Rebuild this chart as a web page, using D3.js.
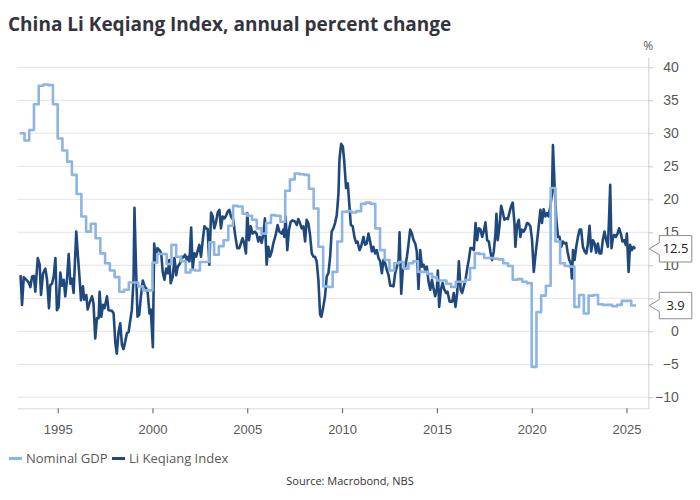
<!DOCTYPE html>
<html>
<head>
<meta charset="utf-8">
<script src="https://cdn.jsdelivr.net/npm/d3@7"></script>
<style>
body { margin: 0; background: #fff; }
svg { font-family: "Open Sans", "Noto Sans", sans-serif; }
</style>
</head>
<body>
<svg width="700" height="500"></svg>
<script>
const yearTicks = [1995, 2000, 2005, 2010, 2015, 2020, 2025];
const pctTicks = [-10, -5, 0, 5, 10, 15, 20, 25, 30, 35, 40];
const seriesNames = ["Nominal GDP", "Li Keqiang Index"];

// Nominal GDP, quarterly, starting 1993 Q1
const gdpFirstYear = 1993;
const gdpValues = [
    30.0, 28.9, 30.5, 34.4,
    37.2, 37.4, 37.3, 34.4,
    29.2, 27.4, 25.7, 23.7,
    20.8, 17.4, 15.1, 16.3,
    14.1, 11.8, 10.3, 9.2,
    8.2, 6.0, 6.3, 7.4,
    7.4, 6.8, 6.2, 6.2,
    10.4, 11.7, 11.7, 10.2,
    13.1, 11.3, 10.6, 8.9,
    9.3, 9.2, 10.5, 10.5,
    13.5, 11.6, 12.9, 13.8,
    16.0, 19.0, 18.9, 17.8,
    17.5, 16.9, 15.6, 14.8,
    16.4, 17.6, 17.5, 16.6,
    21.3, 23.0, 23.9, 23.8,
    23.7, 21.6, 18.6, 12.8,
    6.8, 6.7, 9.0, 13.6,
    18.1, 18.2, 18.0, 18.2,
    19.3, 19.5, 19.3, 15.6,
    12.3, 10.8, 9.2, 10.3,
    10.5, 9.5, 10.3, 10.6,
    9.0, 9.0, 8.7, 8.2,
    7.7, 7.7, 7.2, 6.7,
    7.5, 7.5, 7.8, 9.6,
    11.8, 11.7, 11.1, 11.1,
    11.0, 10.9, 10.3, 9.9,
    7.8, 7.9, 7.5, 7.3,
    -5.4, 2.9, 5.4, 6.9,
    21.7, 13.6, 10.3, 9.9,
    9.8, 3.7, 5.5, 2.7,
    5.4, 5.5, 4.1, 4.0,
    4.0, 3.8, 4.0, 4.6,
    4.6, 3.9
];

// Li Keqiang Index (decimal years)
const lkiDates = [
    1993.04, 1993.12, 1993.21, 1993.35, 1993.47, 1993.56, 1993.65, 1993.74, 1993.82, 1993.95,
    1994.05, 1994.12, 1994.23, 1994.35, 1994.44, 1994.54, 1994.61, 1994.70, 1994.79, 1994.88, 1994.96,
    1995.05, 1995.14, 1995.23, 1995.32, 1995.40, 1995.49, 1995.58, 1995.67, 1995.75, 1995.84, 1995.98,
    1996.07, 1996.16, 1996.23, 1996.33, 1996.40, 1996.51, 1996.58, 1996.68, 1996.81, 1996.89, 1996.98,
    1997.07, 1997.16, 1997.21, 1997.30, 1997.39, 1997.47, 1997.60, 1997.68, 1997.86, 1997.95,
    1998.04, 1998.12, 1998.21, 1998.30, 1998.39, 1998.47, 1998.56, 1998.65, 1998.74, 1998.82, 1998.91,
    1999.00, 1999.05, 1999.12, 1999.21, 1999.30, 1999.39, 1999.49, 1999.58, 1999.67, 1999.75, 1999.84, 1999.91,
    2000.02, 2000.09, 2000.18, 2000.26, 2000.37, 2000.46, 2000.54, 2000.63, 2000.72, 2000.81, 2000.89, 2000.96,
    2001.07, 2001.16, 2001.25, 2001.33, 2001.46, 2001.54, 2001.63, 2001.72, 2001.81, 2001.89, 2001.95,
    2002.04, 2002.12, 2002.21, 2002.30, 2002.39, 2002.47, 2002.56, 2002.65, 2002.74, 2002.82, 2002.91,
    2003.00, 2003.09, 2003.18, 2003.26, 2003.35, 2003.44, 2003.53, 2003.61, 2003.70, 2003.79, 2003.88, 2003.96,
    2004.05, 2004.14, 2004.26, 2004.35, 2004.47, 2004.58, 2004.75, 2004.84, 2004.93,
    2005.00, 2005.09, 2005.18, 2005.28, 2005.40, 2005.49, 2005.58, 2005.67, 2005.76, 2005.85, 2005.93,
    2006.02, 2006.11, 2006.20, 2006.29, 2006.37, 2006.50, 2006.60, 2006.69, 2006.81, 2006.90, 2006.95,
    2007.02, 2007.11, 2007.20, 2007.29, 2007.39, 2007.52, 2007.61, 2007.69, 2007.78, 2007.87, 2007.96,
    2008.05, 2008.13, 2008.22, 2008.31, 2008.40, 2008.49, 2008.57, 2008.66, 2008.75, 2008.84, 2008.91,
    2009.01, 2009.10, 2009.19, 2009.28, 2009.37, 2009.45, 2009.54, 2009.63, 2009.72, 2009.81, 2009.86, 2009.95,
    2010.04, 2010.12, 2010.21, 2010.30, 2010.39, 2010.46, 2010.56, 2010.65, 2010.74, 2010.81, 2010.92,
    2011.00, 2011.13, 2011.21, 2011.30, 2011.39, 2011.48, 2011.57, 2011.65, 2011.74, 2011.83, 2011.92,
    2012.01, 2012.10, 2012.18, 2012.27, 2012.36, 2012.45, 2012.54, 2012.62, 2012.71, 2012.80, 2012.89, 2012.98,
    2013.03, 2013.12, 2013.20, 2013.33, 2013.42, 2013.50, 2013.59, 2013.68, 2013.77, 2013.86, 2013.94,
    2014.03, 2014.12, 2014.21, 2014.30, 2014.38, 2014.47, 2014.56, 2014.65, 2014.74, 2014.82, 2014.91,
    2015.00, 2015.05, 2015.12, 2015.21, 2015.30, 2015.39, 2015.49, 2015.56, 2015.67, 2015.81, 2015.89, 2015.98,
    2016.07, 2016.16, 2016.25, 2016.33, 2016.42, 2016.51, 2016.60, 2016.68, 2016.77, 2016.86, 2016.95,
    2017.04, 2017.12, 2017.21, 2017.30, 2017.39, 2017.47, 2017.56, 2017.65, 2017.74, 2017.82, 2017.91,
    2018.00, 2018.09, 2018.14, 2018.21, 2018.30, 2018.39, 2018.47, 2018.56, 2018.65, 2018.74, 2018.82, 2018.91,
    2019.00, 2019.09, 2019.14, 2019.23, 2019.32, 2019.40, 2019.49, 2019.58, 2019.67, 2019.75, 2019.84, 2019.93,
    2020.02, 2020.11, 2020.19, 2020.28, 2020.37, 2020.46, 2020.54, 2020.63, 2020.72, 2020.81, 2020.89, 2020.98,
    2021.07, 2021.12, 2021.21, 2021.30, 2021.39, 2021.47, 2021.56, 2021.65, 2021.74, 2021.82, 2021.89, 2021.98,
    2022.07, 2022.12, 2022.18, 2022.26, 2022.35, 2022.44, 2022.53, 2022.61, 2022.70, 2022.79, 2022.88, 2022.96,
    2023.05, 2023.14, 2023.23, 2023.32, 2023.40, 2023.49, 2023.58, 2023.67, 2023.75, 2023.84, 2023.93,
    2024.02, 2024.09, 2024.14, 2024.21, 2024.28, 2024.35, 2024.44, 2024.53, 2024.61, 2024.70, 2024.79, 2024.88, 2024.96,
    2025.02, 2025.11, 2025.19, 2025.28, 2025.37, 2025.46
];
const lkiValues = [
    8.5, 4.0, 8.2, 7.8, 7.4, 6.7, 8.3, 8.4, 6.0, 11.1,
    10.1, 5.5, 8.8, 9.5, 7.8, 3.5, 7.0, 7.2, 8.3, 11.1, 3.2,
    3.7, 8.9, 6.9, 7.8, 5.3, 7.8, 11.7, 7.2, 8.0, 5.8, 15.1,
    11.3, 7.8, 4.7, 6.8, 4.8, 5.5, 3.3, 4.3, 5.3, 4.2, -1.1,
    2.0, 2.0, 6.0, 2.2, 4.0, 3.5, 5.3, 3.2, 3.1, 2.7,
    -1.8, -3.4, -0.1, 1.2, -2.1, -2.7, -1.6, -0.3, -0.1, 1.5, 3.2,
    7.8, 18.7, 10.8, 2.2, 2.5, 5.3, 7.7, 6.8, 6.5, 5.8, 2.7, 3.3,
    -2.4, 13.3, 10.6, 12.6, 12.3, 11.8, 9.0, 7.8, 9.5, 8.8, 10.8, 7.3,
    8.3, 11.1, 8.5, 9.8, 10.3, 11.3, 11.2, 11.6, 10.8, 11.3, 10.6,
    15.7, 9.5, 11.8, 11.3, 12.3, 13.1, 11.3, 13.8, 15.9, 15.6, 15.5,
    10.1, 18.0, 17.4, 15.6, 16.5, 18.0, 18.4, 15.6, 17.4, 17.1, 17.5, 18.1,
    18.4, 17.4, 16.9, 14.8, 12.6, 12.6, 14.1, 13.3, 11.8,
    17.9, 13.8, 15.9, 14.8, 15.1, 14.8, 13.6, 14.3, 13.4, 14.8, 17.1,
    10.1, 12.8, 11.3, 12.1, 13.3, 14.6, 16.1, 15.1, 14.8, 15.4, 14.3,
    17.4, 12.3, 15.4, 16.6, 16.8, 16.6, 16.1, 17.0, 16.4, 15.6, 15.9,
    13.6, 16.9, 16.4, 14.6, 11.8, 11.3, 11.3, 10.6, 7.8, 2.5, 2.2,
    3.7, 5.3, 8.3, 8.8, 11.3, 15.1, 15.6, 16.4, 17.6, 20.9, 26.0, 28.4,
    28.0, 25.5, 21.7, 22.4, 18.9, 16.1, 15.9, 14.3, 13.4, 13.6, 12.3,
    12.8, 14.3, 13.1, 13.3, 14.8, 13.6, 12.1, 12.8, 11.8, 12.3, 11.1,
    10.6, 8.8, 10.8, 10.3, 9.3, 8.5, 6.9, 6.9, 6.8, 8.8, 9.8, 10.8,
    15.0, 5.7, 9.3, 9.8, 11.3, 13.1, 15.4, 14.8, 13.8, 13.3, 12.1,
    6.4, 12.3, 9.8, 10.1, 9.3, 9.8, 7.5, 6.3, 7.8, 6.5, 5.3,
    6.5, 9.2, 3.7, 6.3, 7.3, 6.3, 5.8, 6.0, 4.5, 4.5, 5.8, 3.7,
    5.8, 10.6, 6.3, 5.8, 6.8, 7.8, 9.5, 10.8, 12.6, 12.6, 12.3,
    16.4, 13.8, 15.6, 15.4, 14.3, 15.1, 16.5, 13.8, 13.6, 12.1, 10.8,
    12.1, 14.8, 17.8, 13.8, 15.9, 19.0, 18.1, 16.9, 17.1, 17.0, 17.9, 18.9,
    19.5, 16.4, 12.8, 16.1, 16.9, 14.3, 15.4, 15.1, 15.6, 16.4, 16.3, 15.9,
    13.8, 9.0, 11.3, 13.6, 15.9, 18.4, 16.4, 18.5, 17.4, 17.9, 17.4, 18.9,
    20.9, 28.2, 21.9, 16.9, 14.3, 14.3, 12.8, 13.6, 13.3, 13.4, 12.1, 10.8,
    10.3, 8.0, 12.3, 10.8, 12.8, 14.3, 15.4, 15.4, 12.8, 12.1, 11.8, 13.1,
    16.0, 12.1, 13.8, 13.3, 11.9, 13.3, 11.8, 11.8, 13.8, 15.1, 13.8,
    12.8, 17.9, 22.2, 12.6, 14.1, 14.6, 14.3, 14.8, 15.6, 14.8, 13.6, 13.8, 13.1,
    14.8, 9.0, 13.1, 12.3, 12.8, 12.5
];

const colors = {gdp: "#8db4e2", lki: "#1f497d"};

class KeqiangChart {
    constructor(_d3) {
        this.d3 = _d3;
        this.svg = this.d3.select("svg");
        this.x = this.d3.scaleLinear().domain([1992.87, 2026.15]).range([17.3, 648.3]);
        this.y = this.d3.scaleLinear().domain([-11.67, 41.56]).range([408.3, 57]);
    }
    render() {
        this.renderGrid();
        this.renderAxes();
        this.renderLines();
        this.renderEndLabels();
        this.renderText();
    }
    renderGrid() {
        let [x0, x1] = this.x.range();
        this.svg.append("g")
            .selectAll("line")
            .data(pctTicks)
            .join("line")
            .attr("x1", x0).attr("x2", x1)
            .attr("y1", d => this.y(d)).attr("y2", d => this.y(d))
            .attr("stroke", "#e3e3e3")
            .attr("stroke-width", 1);
    }
    renderAxes() {
        let bottom = this.svg.append("g")
            .attr("transform", `translate(0,${this.y.range()[0]})`)
            .call(this.d3.axisBottom(this.x)
                .tickValues(yearTicks)
                .tickFormat(this.d3.format("d"))
                .tickSize(5)
                .tickSizeOuter(0)
                .tickPadding(11));
        bottom.select(".domain").attr("stroke", "#d9d9d9");
        bottom.selectAll(".tick line").attr("stroke", "#595959");
        bottom.selectAll(".tick text")
            .attr("fill", "#595959")
            .style("font-size", "13px")
            .style("font-family", "inherit");

        let right = this.svg.append("g")
            .attr("transform", `translate(${this.x.range()[1]},0)`)
            .call(this.d3.axisRight(this.y)
                .tickValues(pctTicks)
                .tickSize(5)
                .tickSizeOuter(0));
        right.select(".domain").attr("stroke", "#d0d0d0");
        right.selectAll(".tick line").attr("stroke", "#c8c8c8");
        right.selectAll(".tick text")
            .attr("x", 30.5)
            .attr("text-anchor", "end")
            .attr("fill", "#595959")
            .style("font-size", "14px")
            .style("font-family", "inherit");

        this.svg.append("text")
            .attr("x", this.x.range()[1])
            .attr("y", 50)
            .attr("text-anchor", "middle")
            .attr("fill", "#595959")
            .style("font-size", "12px")
            .text("%");
    }
    gdpPoints() {
        let pts = gdpValues.map((v, i) => ({t: gdpFirstYear + i / 4, v: v}));
        let last = pts[pts.length - 1];
        pts.push({t: last.t + 0.25, v: last.v});
        return pts;
    }
    lkiPoints() {
        return lkiDates.map((t, i) => ({t: t, v: lkiValues[i]}));
    }
    renderLines() {
        let line = this.d3.line()
            .x(d => this.x(d.t))
            .y(d => this.y(d.v));

        this.svg.append("path")
            .datum(this.lkiPoints())
            .attr("d", line)
            .attr("fill", "none")
            .attr("stroke", colors.lki)
            .attr("stroke-width", 2.6)
            .attr("stroke-linejoin", "round");

        this.svg.append("path")
            .datum(this.gdpPoints())
            .attr("d", line.curve(this.d3.curveStepAfter))
            .attr("fill", "none")
            .attr("stroke", colors.gdp)
            .attr("stroke-width", 2.6)
            .attr("stroke-linejoin", "round");
    }
    renderEndLabels() {
        // value boxes pointing at the right axis
        let ends = [lkiValues[lkiValues.length - 1], gdpValues[gdpValues.length - 1]];
        let tip = this.x.range()[1] + 1;
        let bx = tip + 10, w = 32.5, h = 13.2;
        let g = this.svg.append("g")
            .selectAll("g")
            .data(ends)
            .join("g")
            .attr("transform", d => `translate(0,${this.y(d)})`);
        g.append("path")
            .attr("d", `M${tip},0 L${bx},-6 L${bx},${-h} L${bx + w},${-h} L${bx + w},${h} L${bx},${h} L${bx},6 Z`)
            .attr("fill", "#fff")
            .attr("stroke", "#8c8c8c")
            .attr("stroke-width", 1);
        g.append("text")
            .attr("x", bx + w / 2)
            .attr("dy", "0.35em")
            .attr("text-anchor", "middle")
            .attr("fill", "#222")
            .style("font-size", "13px")
            .text(d => d.toFixed(1));
    }
    renderText() {
        this.svg.append("text")
            .attr("x", 8)
            .attr("y", 30.5)
            .attr("fill", "#33343d")
            .style("font-size", "19px")
            .style("font-weight", "700")
            .text("China Li Keqiang Index, annual percent change");

        // legend
        let items = [
            {name: seriesNames[0], color: colors.gdp, x: 9},
            {name: seriesNames[1], color: colors.lki, x: 112}
        ];
        let lg = this.svg.append("g")
            .selectAll("g")
            .data(items)
            .join("g")
            .attr("transform", d => `translate(${d.x},458.5)`);
        lg.append("line")
            .attr("x1", 0).attr("x2", 13)
            .attr("stroke", d => d.color)
            .attr("stroke-width", 3);
        lg.append("text")
            .attr("x", 17)
            .attr("y", 4.5)
            .attr("fill", "#595959")
            .style("font-size", "13px")
            .text(d => d.name);

        this.svg.append("text")
            .attr("x", 350)
            .attr("y", 485)
            .attr("text-anchor", "middle")
            .attr("fill", "#333")
            .style("font-size", "11px")
            .text("Source: Macrobond, NBS");
    }
}

new KeqiangChart(d3).render();
</script>
</body>
</html>
